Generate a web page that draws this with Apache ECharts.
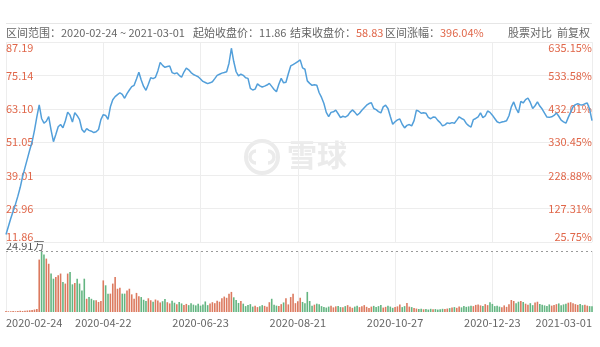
<!DOCTYPE html>
<html><head><meta charset="utf-8">
<script src="https://cdn.jsdelivr.net/npm/echarts@6/dist/echarts.min.js"></script>
<style>html,body{margin:0;padding:0;background:#fff}#c{width:600px;height:347px}</style>
</head><body><div id="c"></div>
<script>
// ---- data ----
const startDate = '2020-02-24', endDate = '2021-03-01';
const holidays = ['2020-04-06','2020-05-01','2020-05-04','2020-05-05','2020-06-25','2020-06-26',
  '2020-10-01','2020-10-02','2020-10-05','2020-10-06','2020-10-07','2020-10-08',
  '2021-01-01','2021-02-11','2021-02-12','2021-02-15','2021-02-16','2021-02-17'];
const labelDates = ['2020-02-24','2020-04-22','2020-06-23','2020-08-21','2020-10-27','2020-12-23','2021-03-01'];
const priceTickLabels = ['11.86','26.96','39.01','51.05','63.10','75.14','87.19'];
const pctTickLabels = ['25.75%','127.31%','228.88%','330.45%','432.01%','533.58%','635.15%'];
const priceMin = 14.91, priceMax = 87.19;
const volMax = 24.91;
const closes = [
17.6,20.5,23.4,26.0,28.6,31.5,34.7,38.6,41.8,45.0,
48.2,51.1,55.3,60.2,64.5,59.6,57.9,58.6,60.3,55.4,
51.2,53.8,56.6,57.4,56.2,58.7,61.9,60.8,58.3,61.7,
60.6,59.2,55.6,54.6,55.9,55.3,55.0,54.5,54.8,55.6,
59.2,61.0,60.7,59.3,63.8,66.4,67.5,68.2,68.9,68.3,
66.9,68.6,69.9,71.1,71.6,73.9,76.3,73.5,71.2,69.8,
72.0,74.3,74.0,74.5,76.8,79.9,78.8,78.1,78.4,78.6,
76.2,75.8,76.1,75.2,74.5,76.4,77.8,77.2,76.2,75.5,
75.1,74.7,73.9,73.0,72.6,72.2,72.5,72.9,74.0,75.2,
75.6,76.0,76.2,76.5,79.6,85.0,80.2,76.5,75.0,75.6,
75.2,74.3,74.1,70.5,69.9,70.2,72.1,71.4,71.0,71.3,
71.7,72.3,71.2,70.1,69.3,72.0,74.1,72.5,72.7,75.8,
78.6,79.1,79.6,80.2,80.8,77.9,77.4,73.2,72.3,71.6,
71.8,71.6,68.9,67.2,65.0,61.8,60.3,61.8,62.0,62.6,
61.3,59.9,60.4,60.1,60.6,61.8,62.7,61.9,60.8,61.5,
62.6,63.5,64.4,65.0,65.3,63.2,62.8,62.1,61.6,63.8,
64.4,63.2,60.3,57.5,58.4,59.1,59.4,57.5,56.2,57.1,
57.4,56.9,58.8,62.6,62.2,61.5,61.7,61.5,60.0,59.5,
60.1,60.0,58.9,58.1,56.9,57.3,58.0,57.8,58.1,57.9,
59.0,60.2,59.6,59.2,57.8,57.0,56.5,59.2,59.6,60.2,
61.6,59.9,60.5,62.3,61.8,60.8,59.6,58.4,58.0,58.3,
58.5,58.8,60.6,63.8,65.6,63.2,61.6,65.8,65.2,66.4,
67.0,65.4,63.2,64.2,65.6,64.1,63.0,61.5,60.1,60.0,
60.2,60.7,61.6,60.4,59.0,58.4,57.9,60.0,61.9,63.8,
64.6,64.9,64.6,64.5,64.9,65.2,63.0,58.83];
const volumes = [
0.4,0.3,0.3,0.4,0.3,0.4,0.5,0.4,0.5,0.6,0.7,0.8,1.0,1.2,
21.4,24.91,23.5,21.8,19.7,15.7,13.6,14.3,15.0,15.7,
12.3,11.6,15.7,16.3,11.3,11.8,13.6,11.6,8.8,13.6,
5.4,6.1,5.4,4.8,4.8,4.1,4.5,12.9,10.9,7.5,
7.5,11.6,14.3,9.5,9.9,7.5,7.5,8.8,9.5,7.2,
5.4,7.8,6.4,6.1,
5.0,4.5,5.6,4.8,4.2,5.1,4.7,3.9,4.4,5.3,
4.0,3.5,4.6,3.8,3.2,4.1,3.5,2.9,3.3,2.8,
3.6,3.0,2.7,3.4,2.6,
3.1,4.3,2.8,3.5,4.0,3.6,4.6,4.2,5.6,6.3,
5.8,7.5,8.2,6.0,4.9,3.7,4.5,3.4,
2.4,2.9,3.2,2.2,2.6,2.0,2.3,2.8,2.5,2.1,
4.0,5.4,3.0,2.6,2.4,3.2,3.9,5.6,3.1,6.1,
7.5,3.6,4.4,5.8,
4.1,3.6,8.2,4.5,2.6,3.0,3.4,3.2,2.4,2.0,
1.8,2.2,2.6,1.9,2.3,2.5,2.0,1.9,2.4,2.8,
2.1,1.7,2.2,2.6,2.0,2.3,2.8,2.1,1.6,2.2,
2.5,2.0,2.4,2.9,1.8,2.1,2.6,2.2,1.7,2.0,
2.3,3.1,2.0,2.4,3.7,2.2,
2.0,1.6,1.4,1.2,1.3,1.1,1.2,1.0,1.3,1.1,
1.2,1.0,1.1,1.3,1.2,1.4,1.6,1.8,2.0,1.7,
2.2,1.9,2.4,2.1,2.3,2.6,2.4,2.9,3.1,2.7,
2.5,3.2,2.8,4.0,3.3,2.4,2.6,2.2,1.9,2.7,
2.1,3.2,4.9,4.5,3.6,4.2,4.5,4.1,3.4,3.0,
3.6,2.8,3.9,4.2,3.3,3.0,2.7,2.4,3.1,2.6,
2.9,3.2,3.5,2.8,3.1,3.4,3.8,4.0,3.6,3.2,
2.9,3.3,2.8,3.0,2.6,2.4,2.3];

// ---- trading-day categories ----
function pad(n){return n<10?'0'+n:''+n;}
const dates = [];
(function(){
  const d = new Date(startDate + 'T00:00:00Z');
  const end = new Date(endDate + 'T00:00:00Z');
  while (d <= end) {
    const s = d.getUTCFullYear()+'-'+pad(d.getUTCMonth()+1)+'-'+pad(d.getUTCDate());
    const wd = d.getUTCDay();
    if (wd !== 0 && wd !== 6 && holidays.indexOf(s) < 0) dates.push(s);
    d.setUTCDate(d.getUTCDate()+1);
  }
})();

const FONT = "'Noto Sans CJK SC','Noto Sans',sans-serif";
const RED = '#dc7a5f', GREEN = '#63b581', LABEL = '#e0674a', GRID = '#ededed', WM = '#ebebeb';
const showDate = (idx, val) => labelDates.indexOf(val) >= 0;

const barData = volumes.map((v, i) => ({
  value: v,
  itemStyle: { color: (i === 0 || closes[i] >= closes[i-1]) ? RED : GREEN }
}));

const chart = echarts.init(document.getElementById('c'), null, {renderer: 'canvas'});
chart.setOption({
  animation: false,
  textStyle: { fontFamily: FONT },
  grid: [
    { left: 6, right: 8, top: 42.2, height: 199.8 },
    { left: 6, right: 8, top: 251, height: 61 }
  ],
  xAxis: [
    { type: 'category', gridIndex: 0, data: dates, boundaryGap: false,
      axisLine: {show: false}, axisTick: {show: false}, axisLabel: {show: false},
      splitLine: {show: true, interval: showDate, lineStyle: {color: GRID, width: 1}} },
    { type: 'category', gridIndex: 1, data: dates, boundaryGap: false,
      axisLine: {show: false}, axisTick: {show: false},
      axisLabel: {show: true, interval: showDate, color: '#666', fontSize: 11, margin: 5,
        fontFamily: FONT, alignMinLabel: 'left', alignMaxLabel: 'right'},
      splitLine: {show: true, interval: showDate, lineStyle: {color: GRID, width: 1}} }
  ],
  yAxis: [
    { type: 'value', gridIndex: 0, min: 0, max: 6, interval: 1, position: 'left',
      axisLine: {show: false}, axisTick: {show: false},
      axisLabel: {inside: true, margin: 0, color: LABEL, fontSize: 11, fontFamily: FONT,
        formatter: v => priceTickLabels[Math.round(v)],
        verticalAlignMinLabel: 'bottom', verticalAlignMaxLabel: 'top'},
      splitLine: {show: true, lineStyle: {color: GRID, width: 1}} },
    { type: 'value', gridIndex: 0, min: 0, max: 6, interval: 1, position: 'right',
      axisLine: {show: false}, axisTick: {show: false},
      axisLabel: {inside: true, margin: 0, color: LABEL, fontSize: 11, fontFamily: FONT,
        formatter: v => pctTickLabels[Math.round(v)],
        verticalAlignMinLabel: 'bottom', verticalAlignMaxLabel: 'top'},
      splitLine: {show: false} },
    { type: 'value', gridIndex: 0, min: priceMin, max: priceMax, show: false, splitLine: {show: false} },
    { type: 'value', gridIndex: 1, min: 0, max: volMax, show: false, splitLine: {show: false} }
  ],
  series: [
    { type: 'line', xAxisIndex: 0, yAxisIndex: 2, data: closes, showSymbol: false, symbol: 'none',
      lineStyle: {color: '#529fda', width: 1.5}, itemStyle: {color: '#529fda'} },
    { type: 'bar', xAxisIndex: 1, yAxisIndex: 3, data: barData, barWidth: 1.6,
      markLine: { silent: true, symbol: ['none','none'], label: {show: false},
        lineStyle: {type: [2, 3], color: '#9a9a9a', width: 1},
        data: [{yAxis: volMax}] } }
  ],
  graphic: [
    { type: 'line', shape: {x1: 6, y1: 23.5, x2: 592, y2: 23.5}, style: {stroke: '#e6e6e6', lineWidth: 1}, silent: true },
    { type: 'text', left: 6, top: 27, style: {text: '区间范围：2020-02-24 ~ 2021-03-01', fill: '#666', font: '11px ' + FONT} },
    { type: 'text', left: 193, top: 27, style: {text: '起始收盘价：11.86', fill: '#666', font: '11px ' + FONT} },
    { type: 'text', left: 290, top: 27, style: {
        text: '{a|结束收盘价：}{b|58.83}', font: '11px ' + FONT,
        rich: {a: {fill: '#666', fontFamily: FONT, fontSize: 11}, b: {fill: LABEL, fontFamily: FONT, fontSize: 11}}} },
    { type: 'text', left: 385, top: 27, style: {
        text: '{a|区间涨幅：}{b|396.04%}', font: '11px ' + FONT,
        rich: {a: {fill: '#666', fontFamily: FONT, fontSize: 11}, b: {fill: LABEL, fontFamily: FONT, fontSize: 11}}} },
    { type: 'text', right: 10, top: 27, style: {text: '股票对比  前复权', fill: '#666', font: '11px ' + FONT} },
    { type: 'text', left: 6, top: 240, style: {text: '24.91万', fill: '#555', font: '11px ' + FONT} },
    { type: 'group', silent: true, z: -1, children: [
      { type: 'circle', shape: {cx: 262, cy: 157, r: 16}, style: {fill: 'none', stroke: WM, lineWidth: 4} },
      { type: 'arc', shape: {cx: 256, cy: 157, r: 6, startAngle: -Math.PI/2, endAngle: Math.PI/2, clockwise: false}, style: {fill: 'none', stroke: WM, lineWidth: 3.5} },
      { type: 'arc', shape: {cx: 268, cy: 157, r: 6, startAngle: Math.PI/2, endAngle: Math.PI*1.5, clockwise: false}, style: {fill: 'none', stroke: WM, lineWidth: 3.5} },
      { type: 'text', left: 287, top: 140, style: {text: '雪球', fill: WM, font: 'bold 30px ' + FONT} }
    ]}
  ]
});
</script></body></html>
